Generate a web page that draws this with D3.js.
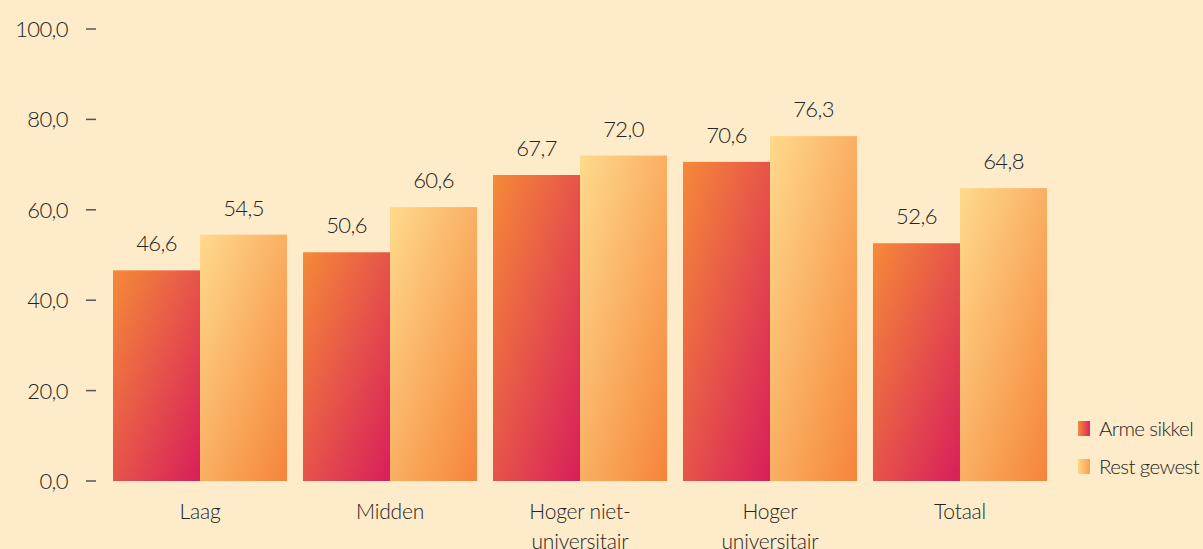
<!DOCTYPE html>
<html>
<head>
<meta charset="utf-8">
<script src="https://cdn.jsdelivr.net/npm/d3@7"></script>
<style>
  html, body { margin: 0; padding: 0; background: #FEEBC9; }
  svg { display: block; }
  text { font-family: Lato, "Open Sans", sans-serif; font-weight: 300; fill: #242424; }
</style>
</head>
<body>
<svg id="chart" width="1203" height="549"></svg>
<script>
// Education level categories (second line of a label after "|")
const categories = ["Laag", "Midden", "Hoger niet-|universitair", "Hoger|universitair", "Totaal"];
const seriesNames = ["Arme sikkel", "Rest gewest"];
const armeSikkel = [46.6, 50.6, 67.7, 70.6, 52.6];
const restGewest = [54.5, 60.6, 72.0, 76.3, 64.8];
const yTicks = [0, 20, 40, 60, 80, 100];

const svg = d3.select("#chart");

const x0 = d3.scaleBand().domain(categories).range([113, 1047]).paddingInner(0.084).paddingOuter(0);
const x1 = d3.scaleBand().domain(seriesNames).range([0, x0.bandwidth()]);
const y = d3.scaleLinear().domain([0, 100]).range([481, 29]);

const fmt = v => d3.format(".1f")(v).replace(".", ",");

// Gradients: each bar gets its own diagonal fill
const defs = svg.append("defs");
function grad(id, from, to, x2, y2) {
  const g = defs.append("linearGradient").attr("id", id)
    .attr("x1", 0).attr("y1", 0).attr("x2", x2).attr("y2", y2);
  g.append("stop").attr("offset", "0%").attr("stop-color", from);
  g.append("stop").attr("offset", "100%").attr("stop-color", to);
}
grad("gArme", "#F58A38", "#D81E5B", 1, 1);
grad("gRest", "#FFDA8C", "#F5843A", 1, 1);
grad("lArme", "#F58A38", "#D9285A", 1, 0);
grad("lRest", "#FFD68A", "#F8A050", 1, 0);
const fills = { "Arme sikkel": "url(#gArme)", "Rest gewest": "url(#gRest)" };
const legendFills = { "Arme sikkel": "url(#lArme)", "Rest gewest": "url(#lRest)" };

// Y axis: right-aligned labels with short dash ticks
const yAxis = svg.append("g");
yAxis.selectAll("line").data(yTicks).join("line")
  .attr("x1", 86).attr("x2", 96)
  .attr("y1", d => y(d)).attr("y2", d => y(d))
  .attr("stroke", "#555").attr("stroke-width", 1.5);
yAxis.selectAll("text").data(yTicks).join("text")
  .attr("x", 68).attr("y", d => y(d) + 8)
  .attr("text-anchor", "end")
  .attr("font-size", 22).attr("letter-spacing", -0.6)
  .text(d => fmt(d));

// Bars
const rows = categories.map((c, i) => ({ cat: c, vals: [armeSikkel[i], restGewest[i]] }));
const groups = svg.append("g").selectAll("g").data(rows).join("g")
  .attr("transform", d => `translate(${x0(d.cat)},0)`);

const cells = groups.selectAll("g").data(d => seriesNames.map((s, j) => ({ s, v: d.vals[j] }))).join("g");
cells.append("rect")
  .attr("x", d => x1(d.s)).attr("width", x1.bandwidth())
  .attr("y", d => y(d.v)).attr("height", d => y(0) - y(d.v))
  .attr("fill", d => fills[d.s]);
cells.append("text")
  .attr("x", d => x1(d.s) + x1.bandwidth() / 2)
  .attr("y", d => y(d.v) - 19)
  .attr("text-anchor", "middle")
  .attr("font-size", 22).attr("letter-spacing", -0.6)
  .text(d => fmt(d.v));

// Category labels (up to two lines)
groups.append("text")
  .attr("x", x0.bandwidth() / 2)
  .attr("y", 519)
  .attr("text-anchor", "middle")
  .attr("font-size", 21).attr("letter-spacing", -0.2)
  .selectAll("tspan").data(d => d.cat.split("|")).join("tspan")
  .attr("x", x0.bandwidth() / 2)
  .attr("dy", (d, i) => i === 0 ? 0 : 30)
  .text(d => d);

// Legend
const legend = svg.append("g").selectAll("g").data(seriesNames).join("g")
  .attr("transform", (d, i) => `translate(1078,${421 + i * 38})`);
legend.append("rect").attr("width", 12).attr("height", 15).attr("fill", d => legendFills[d]);
legend.append("text").attr("x", 21).attr("y", 15)
  .attr("font-size", 20.5).attr("letter-spacing", -0.6)
  .text(d => d);
</script>
</body>
</html>
